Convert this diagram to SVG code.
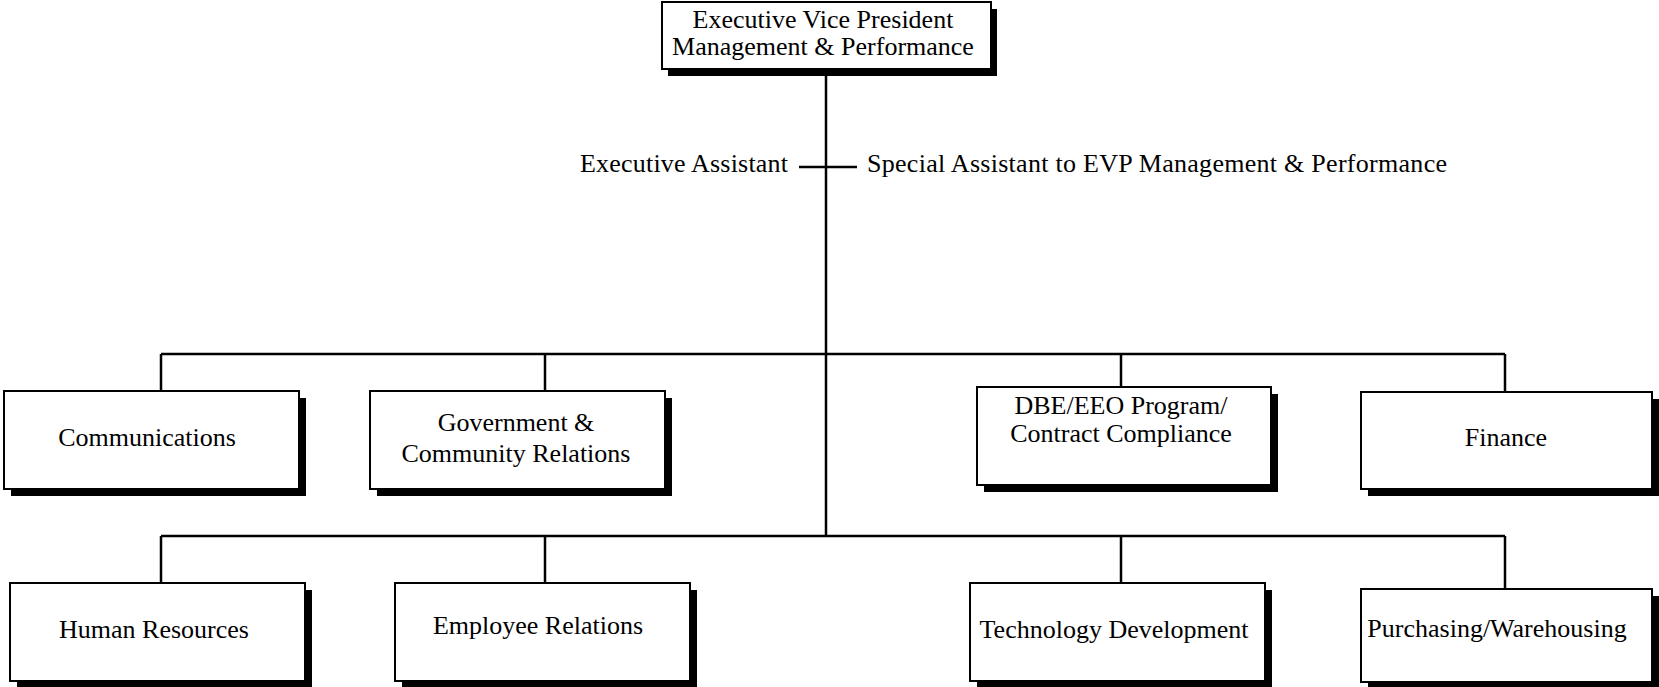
<svg xmlns="http://www.w3.org/2000/svg" width="1659" height="687" viewBox="0 0 1659 687">
<defs>
<style>
.shadow{fill:#000;}
.box{fill:#fff;stroke:#000;stroke-width:2;}
.t{font-family:"Liberation Serif","Times New Roman",serif;font-size:26px;fill:#000;text-anchor:middle;}
.tl{font-family:"Liberation Serif","Times New Roman",serif;font-size:26px;fill:#000;}
.c{stroke:#000;stroke-width:2.5;fill:none;}
</style>
</defs>
<rect width="1659" height="687" fill="#fff"/>
<g id="connectors">
<path class="c" d="M826 69 V537"/>
<path class="c" d="M799 167 H857"/>
<path class="c" d="M161 354 H1505"/>
<path class="c" d="M161 354 V391 M545 354 V391 M1121 354 V387 M1505 354 V392"/>
<path class="c" d="M161 536 H1505"/>
<path class="c" d="M161 536 V583 M545 536 V583 M1121 536 V583 M1505 536 V589"/>
</g>
<g id="evp">
<rect class="shadow" x="668" y="9" width="329" height="67"/>
<rect class="box" x="662" y="2" width="329" height="67"/>
<text class="t" x="823" y="28">Executive Vice President</text>
<text class="t" x="823" y="55">Management &amp; Performance</text>
</g>
<g id="exec-assistant">
<text class="tl" x="580" y="172" textLength="208">Executive Assistant</text>
</g>
<g id="special-assistant">
<text class="tl" x="867" y="172" textLength="580">Special Assistant to EVP Management &amp; Performance</text>
</g>
<g id="communications">
<rect class="shadow" x="11" y="398" width="295" height="98"/>
<rect class="box" x="4" y="391" width="295" height="98"/>
<text class="t" x="147" y="446">Communications</text>
</g>
<g id="government">
<rect class="shadow" x="377" y="398" width="295" height="98"/>
<rect class="box" x="370" y="391" width="295" height="98"/>
<text class="t" x="516" y="431">Government &amp;</text>
<text class="t" x="516" y="462">Community Relations</text>
</g>
<g id="dbe">
<rect class="shadow" x="984" y="394" width="294" height="98"/>
<rect class="box" x="977" y="387" width="294" height="98"/>
<text class="t" x="1121" y="414">DBE/EEO Program/</text>
<text class="t" x="1121" y="442">Contract Compliance</text>
</g>
<g id="finance">
<rect class="shadow" x="1368" y="399" width="291" height="97"/>
<rect class="box" x="1361" y="392" width="291" height="97"/>
<text class="t" x="1506" y="446">Finance</text>
</g>
<g id="human-resources">
<rect class="shadow" x="17" y="590" width="295" height="98"/>
<rect class="box" x="10" y="583" width="295" height="98"/>
<text class="t" x="154" y="638">Human Resources</text>
</g>
<g id="employee-relations">
<rect class="shadow" x="402" y="590" width="295" height="98"/>
<rect class="box" x="395" y="583" width="295" height="98"/>
<text class="t" x="538" y="634">Employee Relations</text>
</g>
<g id="technology">
<rect class="shadow" x="977" y="590" width="295" height="98"/>
<rect class="box" x="970" y="583" width="295" height="98"/>
<text class="t" x="1114" y="638">Technology Development</text>
</g>
<g id="purchasing">
<rect class="shadow" x="1368" y="596" width="291" height="93"/>
<rect class="box" x="1361" y="589" width="291" height="93"/>
<text class="t" x="1497" y="637">Purchasing/Warehousing</text>
</g>
</svg>
